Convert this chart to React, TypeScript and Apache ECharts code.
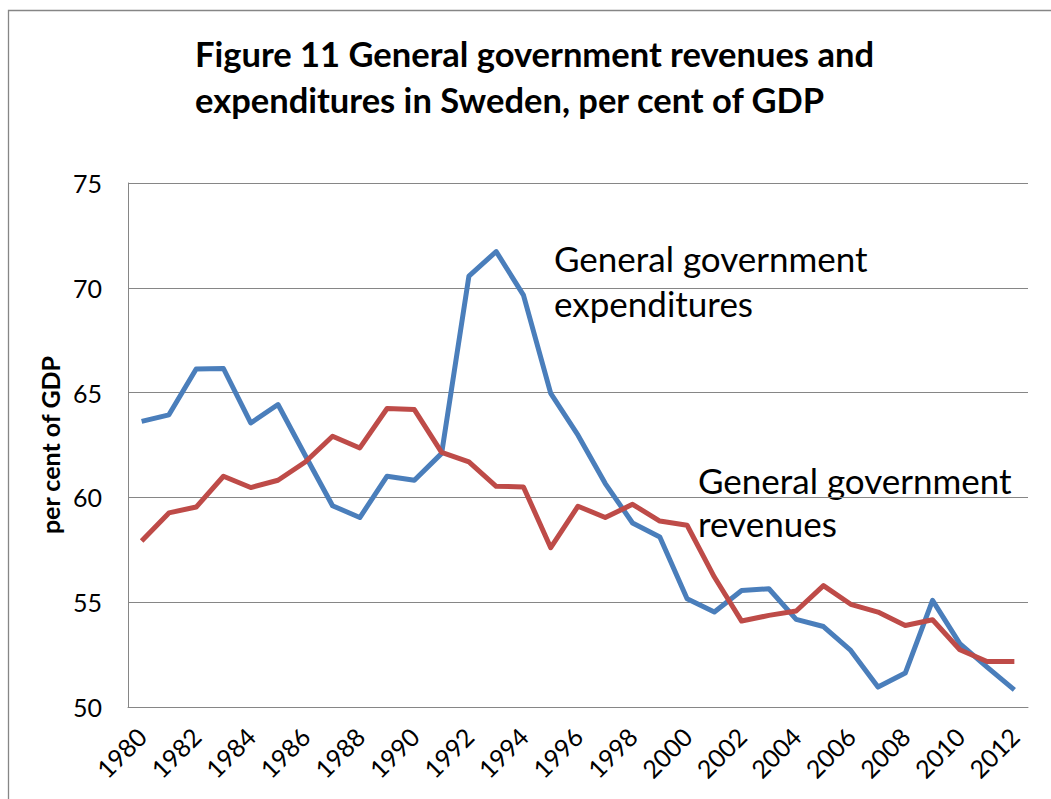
import React, { useEffect, useRef } from "react";
import * as echarts from "echarts";

const years = [
  "1980","1981","1982","1983","1984","1985","1986","1987","1988","1989",
  "1990","1991","1992","1993","1994","1995","1996","1997","1998","1999",
  "2000","2001","2002","2003","2004","2005","2006","2007","2008","2009",
  "2010","2011","2012",
];

const expenditures = [
  63.63, 63.94, 66.13, 66.15, 63.55, 64.43, 62.0, 59.6, 59.04, 61.01,
  60.82, 62.1, 70.56, 71.73, 69.65, 64.96, 62.97, 60.66, 58.78, 58.11,
  55.16, 54.53, 55.56, 55.64, 54.18, 53.84, 52.7, 50.95, 51.62, 55.09,
  53.02, 51.9, 50.82,
];

const revenues = [
  57.92, 59.26, 59.54, 61.01, 60.47, 60.82, 61.69, 62.92, 62.36, 64.24,
  64.19, 62.15, 61.69, 60.53, 60.5, 57.6, 59.58, 59.04, 59.67, 58.87,
  58.67, 56.2, 54.1, 54.37, 54.58, 55.79, 54.9, 54.53, 53.89, 54.16,
  52.73, 52.17, 52.17,
];

const titleLines = [
  "Figure 11 General government revenues and",
  "expenditures in Sweden, per cent of GDP",
];
const expLabel = ["General government", "expenditures"];
const revLabel = ["General government", "revenues"];
const yAxisName = "per cent of GDP";

const FONT = "Lato, 'Open Sans', sans-serif";

export default function App() {
  const ref = useRef<HTMLDivElement>(null);

  useEffect(() => {
    if (!ref.current) return;
    const chart = echarts.init(ref.current, undefined, { renderer: "svg" });
    const option = {
      animation: false,
      backgroundColor: "#ffffff",
      title: {
        text: titleLines.join("\n"),
        left: 190,
        top: 25,
        textStyle: {
          fontFamily: FONT,
          fontWeight: "bold",
          fontSize: 34.5,
          lineHeight: 46,
          color: "#000",
        },
      },
      grid: { left: 128, right: 23, top: 183, bottom: 92, containLabel: false },
      xAxis: {
        type: "category",
        data: years,
        boundaryGap: true,
        axisLine: { lineStyle: { color: "#868686", width: 1 } },
        axisTick: { show: false },
        axisLabel: {
          interval: 1,
          rotate: 45,
          margin: 25,
          fontFamily: FONT,
          fontSize: 25,
          color: "#000",
        },
        splitLine: { show: false },
      },
      yAxis: {
        type: "value",
        min: 50,
        max: 75,
        interval: 5,
        name: yAxisName,
        nameLocation: "middle",
        nameRotate: 90,
        nameGap: 64,
        nameTextStyle: {
          fontFamily: FONT,
          fontWeight: "bold",
          fontSize: 25,
          color: "#000",
        },
        axisLine: { show: true, lineStyle: { color: "#868686", width: 1 } },
        axisTick: { show: false },
        axisLabel: {
          margin: 26,
          fontFamily: FONT,
          fontSize: 25,
          color: "#000",
        },
        splitLine: { show: true, lineStyle: { color: "#868686", width: 1 } },
      },
      series: [
        {
          name: "General government expenditures",
          type: "line",
          data: expenditures,
          symbol: "none",
          lineStyle: { color: "#4A7EBB", width: 5, join: "round" },
          itemStyle: { color: "#4A7EBB" },
        },
        {
          name: "General government revenues",
          type: "line",
          data: revenues,
          symbol: "none",
          lineStyle: { color: "#BE4B48", width: 5, join: "round" },
          itemStyle: { color: "#BE4B48" },
        },
      ],
      graphic: [
        {
          type: "rect",
          shape: { x: 8.5, y: 10.5, width: 1200, height: 1000 },
          style: { fill: "none", stroke: "#868686", lineWidth: 1.3 },
          silent: true,
        },
        {
          type: "text",
          x: 554,
          y: 280,
          style: {
            text: expLabel.join("\n"),
            fontFamily: FONT,
            fontSize: 35,
            lineHeight: 45,
            fill: "#000",
            verticalAlign: "middle",
          },
        },
        {
          type: "text",
          x: 698,
          y: 501,
          style: {
            text: revLabel.join("\n"),
            fontFamily: FONT,
            fontSize: 35,
            lineHeight: 43,
            fill: "#000",
            verticalAlign: "middle",
          },
        },
      ],
    };
    chart.setOption(option);
    return () => chart.dispose();
  }, []);

  return (
    <div
      ref={ref}
      style={{ position: "absolute", left: 0, top: 0, width: 1051, height: 799 }}
    />
  );
}
